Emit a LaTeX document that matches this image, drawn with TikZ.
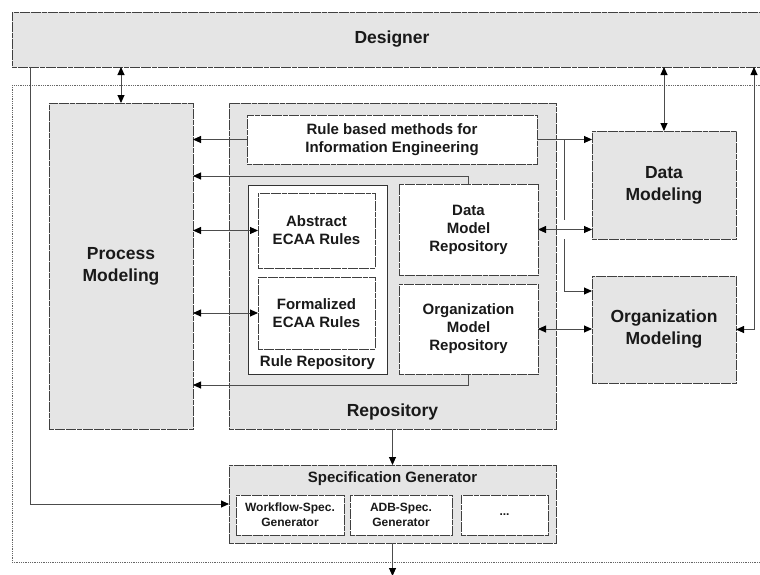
\documentclass[tikz,border=0pt]{standalone}
\usepackage{fontspec}
\setmainfont{Liberation Sans}
\usetikzlibrary{arrows.meta,calc}

\begin{document}
\begin{tikzpicture}[x=1pt,y=-1pt,
  every node/.style={inner sep=0pt, outer sep=0pt, text=black!90},
  gbox/.style={draw=black!75, fill=black!10, line width=0.8pt,
               dash pattern=on 5pt off 0.6pt, anchor=north west, align=center},
  wbox/.style={gbox, fill=white},
  solidbox/.style={draw=black!80, fill=white, line width=0.8pt, anchor=north west},
  outerframe/.style={draw=black!60, line width=0.7pt, dash pattern=on 1pt off 0.8pt},
  big/.style={font=\fontsize{17.5}{22}\selectfont\bfseries},
  mid/.style={font=\fontsize{15}{18}\selectfont\bfseries},
  small/.style={font=\fontsize{12}{15}\selectfont\bfseries},
  conn/.style={draw=black!70, line width=0.9pt},
  >={Triangle[length=8pt,width=7pt,color=black]}
]
\useasboundingbox (0,0) rectangle (760,574);

% outer dotted frame of the modelling environment
\draw[outerframe] (12,85) rectangle (775,562);

% designer bar
\node[gbox, big, minimum width=760pt, minimum height=55pt] (designer) at (12,12) {Designer};

% modelling tools
\node[gbox, big, minimum width=144pt, minimum height=326pt] (proc) at (49,103) {Process\\Modeling};
\node[gbox, minimum width=327pt, minimum height=326pt] (repo) at (229,103) {};
\node[big] (repolabel) at (392.5,412) {Repository};

\node[wbox, mid, minimum width=290pt, minimum height=49pt] (rulebased) at (247,115)
  {Rule based methods for\\Information Engineering};

% bracket lines around the repositories
\coordinate (brt) at (468,176);
\coordinate (brb) at (468,385);
\draw[conn,->] (brt |- 0,184) -- (brt) -- (brt -| proc.east);
\draw[conn,->] (brb |- 0,374) -- (brb) -- (brb -| proc.east);

\node[solidbox, minimum width=139pt, minimum height=189pt] (rulerepo) at (248,185) {};
\node[mid] (rulerepolabel) at (317.5,363) {Rule Repository};
\node[wbox, mid, minimum width=117pt, minimum height=75pt] (abstract) at (258,193) {Abstract\\ECAA Rules};
\node[wbox, mid, minimum width=117pt, minimum height=72pt] (formal) at (258,277) {Formalized\\ECAA Rules};

\node[wbox, mid, minimum width=139pt, minimum height=91pt] (dmrepo) at (399,184) {Data\\Model\\Repository};
\node[wbox, mid, minimum width=139pt, minimum height=90pt] (omrepo) at (399,284) {Organization\\Model\\Repository};

\node[gbox, big, minimum width=144pt, minimum height=108pt] (datamod) at (592,131) {Data\\Modeling};
\node[gbox, big, minimum width=144pt, minimum height=107pt] (orgmod) at (592,276) {Organization\\Modeling};

% specification generator
\node[gbox, minimum width=327pt, minimum height=78pt] (specgen) at (229,465) {};
\node[mid] (speclabel) at (392.5,479) {Specification Generator};
\node[wbox, small, minimum width=108pt, minimum height=40pt] (wf) at (236,495) {Workflow-Spec.\\Generator};
\node[wbox, small, minimum width=102pt, minimum height=40pt] (adb) at (350,495) {ADB-Spec.\\Generator};
\node[wbox, small, minimum width=87pt, minimum height=40pt] (more) at (461,495) {...};

% connectors
\draw[conn,<->] (proc.north |- designer.south) -- (proc.north);
\draw[conn,<->] (datamod.north |- designer.south) -- (datamod.north);

\coordinate (rt) at (754,329.5);
\draw[conn,<->] (rt |- designer.south) -- (rt) -- (orgmod.east);

\coordinate (lft) at (30,504);
\draw[conn,->] (lft |- designer.south) -- (lft) -- (specgen.west);

\draw[conn,->] (rulebased.west) -- (rulebased.west -| proc.east);
\draw[conn,<->] (proc.east |- abstract.west) -- (abstract.west);
\draw[conn,<->] (proc.east |- formal.west) -- (formal.west);

\draw[conn,<->] (dmrepo.east) -- (dmrepo.east -| datamod.west);
\draw[conn,<->] (omrepo.east) -- (omrepo.east -| orgmod.west);

\draw[conn,->] (rulebased.east) -- (rulebased.east -| datamod.west);
\coordinate (br) at (564,291);
\coordinate (gapA) at (564,220);
\coordinate (gapB) at (564,239);
\draw[conn] (br |- rulebased.east) -- (gapA);
\draw[conn,->] (gapB) -- (br) -- (br -| orgmod.west);

\draw[conn,->] (repo.south) -- (specgen.north);
\coordinate (out) at (392.5,576);
\draw[conn,->] (specgen.south) -- (out);
\end{tikzpicture}
\end{document}
